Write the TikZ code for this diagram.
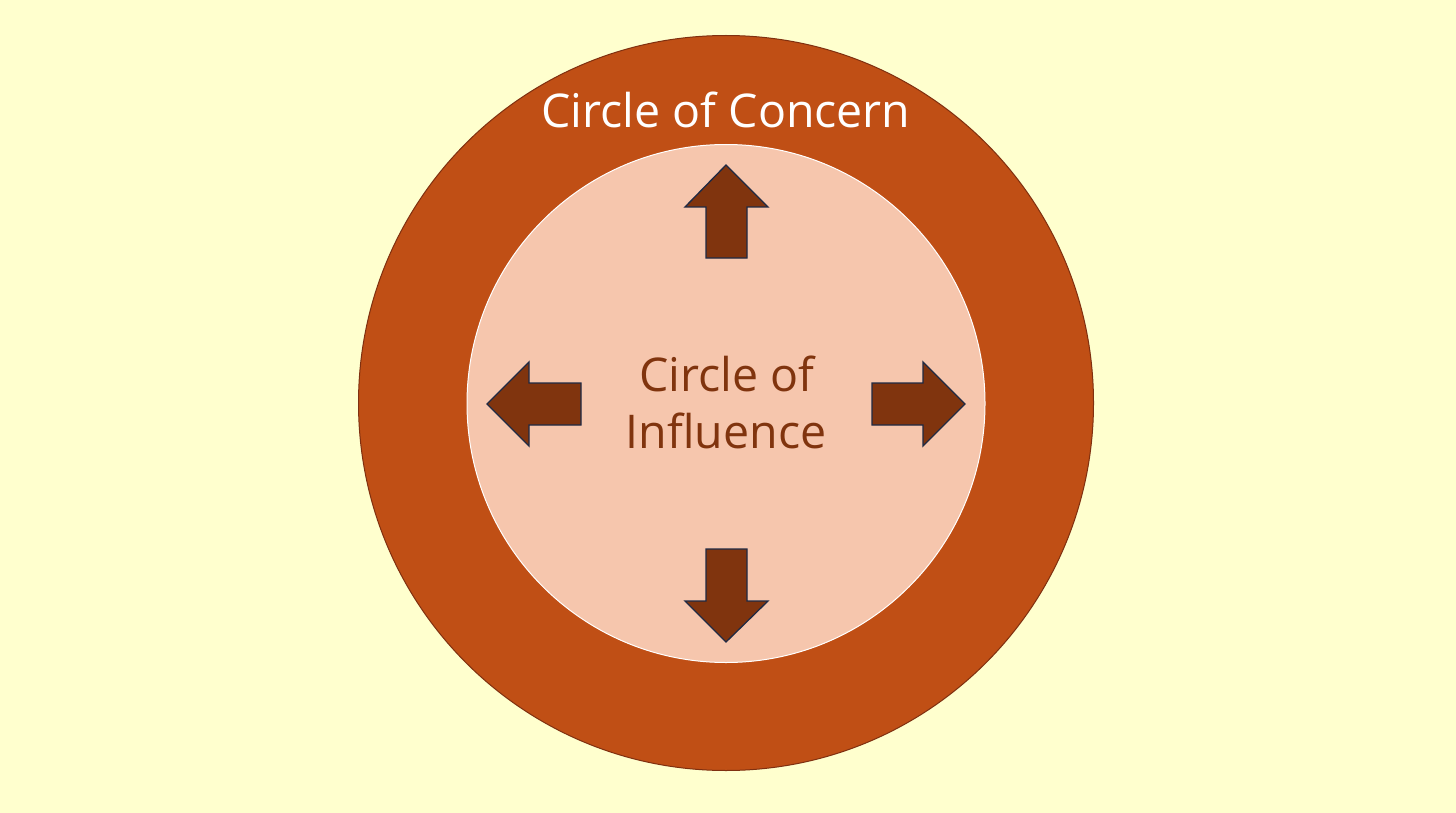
\documentclass[tikz,border=0pt]{standalone}
\usepackage{fontspec}
\setmainfont{Open Sans}
\definecolor{bg}{HTML}{FFFFCE}
\definecolor{outerfill}{HTML}{C04F15}
\definecolor{outerline}{HTML}{7F3010}
\definecolor{innerfill}{HTML}{F6C6AD}
\definecolor{arrowfill}{HTML}{80340E}
\definecolor{arrowline}{HTML}{1F2A44}
\begin{document}
\begin{tikzpicture}[x=1pt,y=-1pt,
  bigarrow/.style={fill=arrowfill,draw=arrowline,line width=1.3pt,line join=miter},
  bigtext/.style={font=\fontsize{46.5}{56}\selectfont,anchor=base}]
\fill[bg] (0,0) rectangle (1456,813);
\useasboundingbox (0,0) rectangle (1456,813);
\node[circle,fill=outerfill,draw=outerline,line width=1pt,minimum size=735pt,inner sep=0pt] (outer) at (726,403) {};
\node[circle,fill=innerfill,draw=white,line width=1pt,minimum size=518pt,inner sep=0pt] (inner) at (726,403.5) {};
\node[bigtext,text=white] (concern) at (726,128) {Circle of Concern};
\node[bigtext,text=arrowfill] (inf1) at (727,391) {Circle of};
\node[bigtext,text=arrowfill] (inf2) at (726,448) {Influence};
% up
\draw[bigarrow] (726,165) -- (768,207) -- (747,207) -- (747,258) -- (706,258) -- (706,207) -- (685,207) -- cycle;
% down
\draw[bigarrow] (726,642) -- (768,601) -- (747,601) -- (747,549) -- (706,549) -- (706,601) -- (685,601) -- cycle;
% left
\draw[bigarrow] (487,404) -- (529,362) -- (529,383) -- (581,383) -- (581,425) -- (529,425) -- (529,446) -- cycle;
% right
\draw[bigarrow] (965,404) -- (923,362) -- (923,383) -- (872,383) -- (872,425) -- (923,425) -- (923,446) -- cycle;
\end{tikzpicture}
\end{document}
